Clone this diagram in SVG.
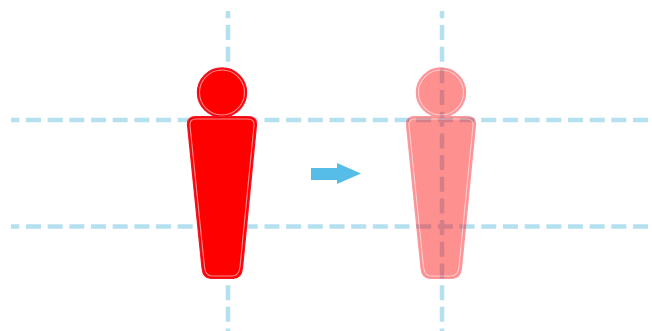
<svg xmlns="http://www.w3.org/2000/svg" width="652" height="331" viewBox="0 0 652 331">
<style>
.guide{fill:none;stroke:#b5e0f0;stroke-width:4.5;stroke-dasharray:15 6.68}
.outer{fill:#ff0000;stroke:#f01428;stroke-width:1.2}
.inner{fill:none;stroke:#ff8c8c;stroke-width:1.1}
</style>
<defs>
<g id="person">
<circle class="outer" cx="222" cy="92.500" r="24.600"/>
<circle class="inner" cx="222" cy="92.500" r="22.500"/>
<path class="outer" d="M196 116.500H248Q257 116.500 256.500 125L242.500 268Q241.500 278.500 233 278.500H211Q203 278.500 202 268L187.500 125Q187 116.500 196 116.500Z"/>
<path class="inner" d="M196 119H248Q254.500 119 254 125.500L240 267Q239 276 232 276H212Q205.500 276 204.500 267L190 125.500Q189.500 119 196 119Z"/>
</g>
</defs>
<rect width="652" height="331" fill="#ffffff"/>
<g id="connectors">
<path class="guide" stroke-dashoffset="6.700" d="M11 120H652"/>
<path class="guide" stroke-dashoffset="6.700" d="M11 226.500H652"/>
<path class="guide" stroke-dashoffset="7.700" d="M228 11V331"/>
<path class="guide" stroke-dashoffset="7.700" d="M442 11V331"/>
</g>
<g id="person-solid"><use href="#person"/></g>
<g id="person-faded" opacity="0.43"><use href="#person" x="219"/></g>
<g id="arrow"><path d="M311 168H337V163L361 173.500L337 184V180H311Z" fill="#55bde8"/></g>
</svg>
